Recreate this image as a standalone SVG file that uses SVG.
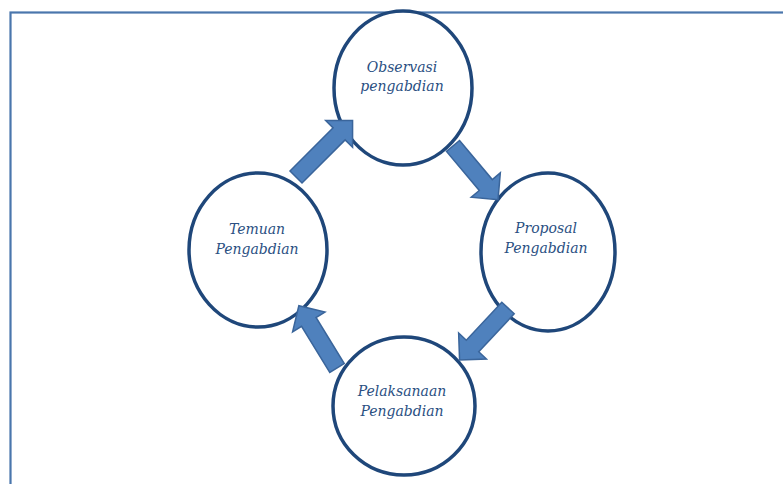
<svg xmlns="http://www.w3.org/2000/svg" width="783" height="484" viewBox="0 0 783 484">
<defs>
<style>
.frame{fill:none;stroke:#4a76ac;stroke-width:2.2}
.node{fill:#ffffff;stroke:#1f477a;stroke-width:3.5}
.lbl{font-family:"DejaVu Serif","Liberation Serif",serif;font-style:italic;font-size:14px;fill:#2a4f82;text-anchor:middle}
.arr{fill:#4f81bd;stroke:#3a659b;stroke-width:1.5;stroke-linejoin:miter}
</style>
</defs>
<rect width="783" height="484" fill="#ffffff"/>
<rect class="frame" x="10.5" y="12.5" width="800" height="500"/>
<g id="observasi">
<ellipse class="node" cx="403" cy="88" rx="69" ry="77"/>
<text class="lbl" x="402" y="72">Observasi</text>
<text class="lbl" x="402" y="91">pengabdian</text>
</g>
<g id="proposal">
<ellipse class="node" cx="548" cy="252" rx="67" ry="79"/>
<text class="lbl" x="546" y="233">Proposal</text>
<text class="lbl" x="546" y="253">Pengabdian</text>
</g>
<g id="pelaksanaan">
<ellipse class="node" cx="404" cy="406" rx="71" ry="69"/>
<text class="lbl" x="402" y="396">Pelaksanaan</text>
<text class="lbl" x="402" y="416">Pengabdian</text>
</g>
<g id="temuan">
<ellipse class="node" cx="258" cy="250" rx="69" ry="77"/>
<text class="lbl" x="257" y="234">Temuan</text>
<text class="lbl" x="257" y="254">Pengabdian</text>
</g>
<g id="connectors">
<path class="arr" d="M0,-8.5 L61,-8.5 L61,-19 L80,0 L61,19 L61,8.5 L0,8.5 Z" transform="translate(296,177) rotate(-45)"/>
<path class="arr" d="M0,-8.5 L51,-8.5 L51,-19 L70,0 L51,19 L51,8.5 L0,8.5 Z" transform="translate(453,146) rotate(50)"/>
<path class="arr" d="M0,-8.5 L52,-8.5 L52,-19 L71,0 L52,19 L52,8.5 L0,8.5 Z" transform="translate(508,308) rotate(133)"/>
<path class="arr" d="M0,-8.5 L54,-8.5 L54,-19 L73,0 L54,19 L54,8.5 L0,8.5 Z" transform="translate(337,368) rotate(-121.5)"/>
</g>
</svg>
